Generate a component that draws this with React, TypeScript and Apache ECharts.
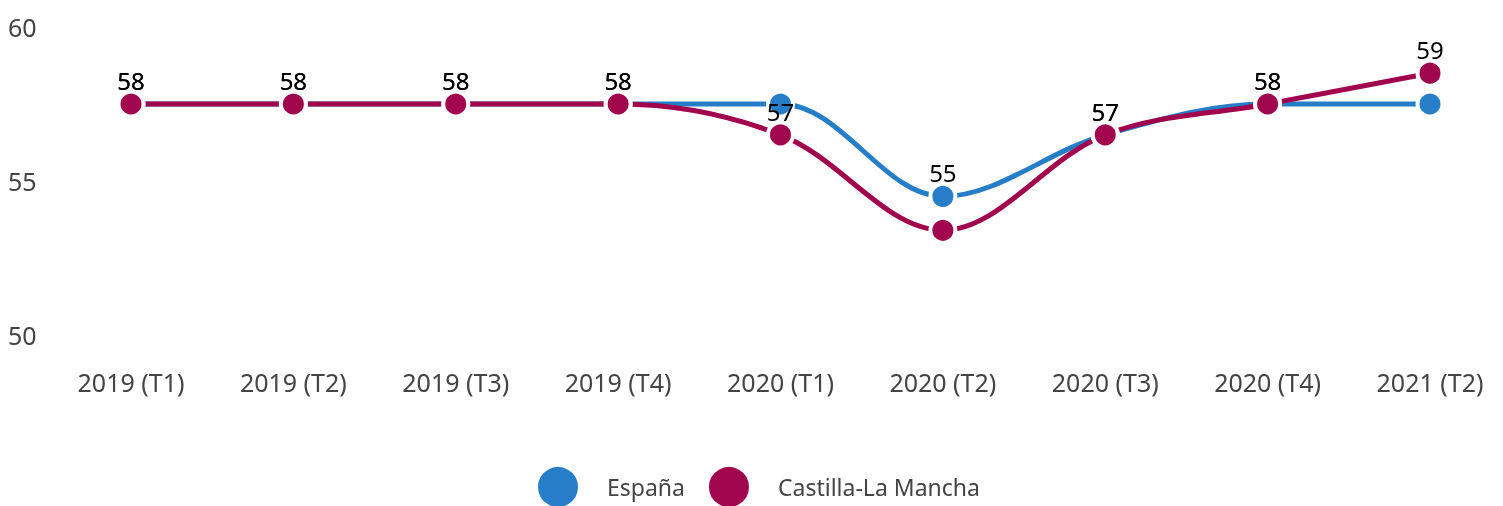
import React, { useEffect, useRef } from "react";
import * as echarts from "echarts";

const categories = [
  "2019 (T1)",
  "2019 (T2)",
  "2019 (T3)",
  "2019 (T4)",
  "2020 (T1)",
  "2020 (T2)",
  "2020 (T3)",
  "2020 (T4)",
  "2021 (T2)",
];
const espana = [57.5, 57.5, 57.5, 57.5, 57.5, 54.5, 56.5, 57.5, 57.5];
const clm = [57.5, 57.5, 57.5, 57.5, 56.5, 53.4, 56.5, 57.5, 58.5];
const espanaLabels = [true, true, true, true, false, true, true, true, false];
const clmLabels = [true, true, true, true, true, false, true, true, true];
const yTicks = [50, 55, 60];

const FONT = "Noto Sans";

function build(values: number[], shows: boolean[]) {
  return values.map((v, i) => ({ value: v, label: { show: shows[i] } }));
}

export default function App() {
  const ref = useRef<HTMLDivElement>(null);
  useEffect(() => {
    if (!ref.current) return;
    const chart = echarts.init(ref.current, undefined, { renderer: "svg" });
    const seriesCommon = {
      type: "line" as const,
      smooth: 0.35,
      symbol: "circle",
      symbolSize: 25,
      lineStyle: { width: 5 },
      itemStyle: { borderColor: "#ffffff", borderWidth: 4 },
      label: {
        show: true,
        position: "top" as const,
        distance: -3,
        color: "#000000",
        fontFamily: FONT,
        fontSize: 24,
        formatter: (p: any) => String(Math.round(p.value)),
      },
      emphasis: { disabled: true },
    };
    chart.setOption({
      animation: false,
      textStyle: { fontFamily: FONT },
      grid: { left: 131, right: 73, top: 27, bottom: 171 },
      legend: {
        bottom: -3,
        left: 536,
        padding: 0,
        icon: "circle",
        itemWidth: 42,
        itemHeight: 42,
        itemGap: 22,
        textStyle: {
          color: "#444444",
          fontFamily: FONT,
          fontSize: 23,
          padding: [0, 0, 0, 23],
        },
        data: ["España", "Castilla-La Mancha"],
      },
      xAxis: {
        type: "category",
        data: categories,
        boundaryGap: false,
        axisLine: { show: false },
        axisTick: { show: false },
        axisLabel: {
          color: "#444444",
          fontFamily: FONT,
          fontSize: 25,
          margin: 34,
        },
      },
      yAxis: {
        type: "value",
        min: yTicks[0],
        max: yTicks[yTicks.length - 1],
        interval: 5,
        splitLine: { show: false },
        axisLine: { show: false },
        axisTick: { show: false },
        axisLabel: {
          color: "#444444",
          fontFamily: FONT,
          fontSize: 25,
          align: "left",
          margin: 123,
        },
      },
      series: [
        {
          ...seriesCommon,
          name: "España",
          color: "#267dc8",
          data: build(espana, espanaLabels),
        },
        {
          ...seriesCommon,
          name: "Castilla-La Mancha",
          color: "#a1054e",
          data: build(clm, clmLabels),
        },
      ],
    });
    return () => chart.dispose();
  }, []);
  return (
    <div
      ref={ref}
      style={{ position: "fixed", left: 0, top: 0, width: 1503, height: 506 }}
    />
  );
}
